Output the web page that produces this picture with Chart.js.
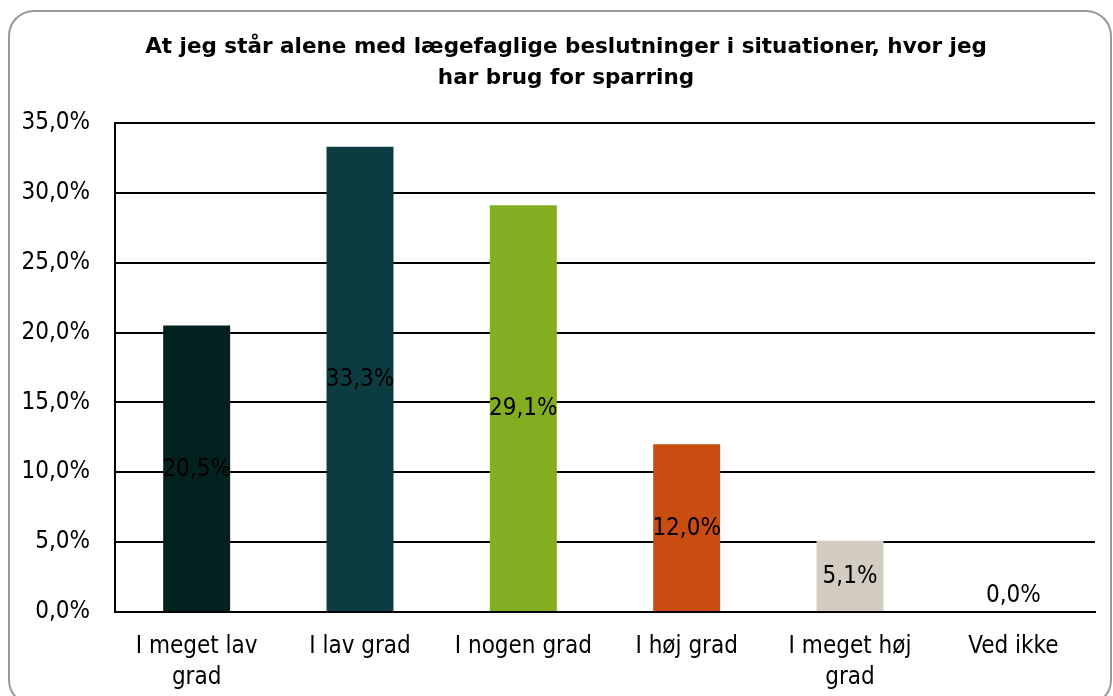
<!DOCTYPE html>
<html>
<head>
<meta charset="utf-8">
<script src="https://cdn.jsdelivr.net/npm/chart.js@4/dist/chart.umd.min.js"></script>
<style>
  body { margin: 0; background: #fff; }
  #wrap { position: relative; width: 1113px; height: 696px; overflow: hidden; }
  #frame {
    position: absolute; left: 8px; top: 10px; width: 1100px; height: 692px;
    border: 2px solid #999; border-radius: 26px; pointer-events: none;
  }
  canvas { position: absolute; left: 0; top: 0; }
</style>
</head>
<body>
<div id="wrap">
  <canvas id="chart" width="1113" height="696"></canvas>
  <div id="frame"></div>
</div>
<script>
// Kategorier og værdier (procent)
const categories = [['I meget lav', 'grad'], 'I lav grad', 'I nogen grad', 'I høj grad', ['I meget høj', 'grad'], 'Ved ikke'];
const values = [20.5, 33.3, 29.1, 12.0, 5.1, 0.0];
const barColors = ['#03211f', '#0d3c40', '#84ae22', '#c94c11', '#d3ccc0', '#7f7f7f'];
const titleLines = ['At jeg står alene med lægefaglige beslutninger i situationer, hvor jeg', 'har brug for sparring'];

const FONT = '"DejaVu Sans Condensed", "DejaVu Sans"';
const TITLE_FONT = '"DejaVu Sans"';

function pct(v) {
  return v.toFixed(1).replace('.', ',') + '%';
}

// Titlen centreres lidt til højre, som i originalen
const titleShift = {
  id: 'titleShift',
  afterLayout(chart) {
    if (chart.titleBlock) chart.titleBlock.left = 37;
  }
};

// Dataetiketter midt i søjlerne
const barLabels = {
  id: 'barLabels',
  afterDatasetsDraw(chart) {
    const ctx = chart.ctx;
    const meta = chart.getDatasetMeta(0);
    ctx.save();
    ctx.font = '24px ' + FONT;
    ctx.fillStyle = '#000';
    ctx.textAlign = 'center';
    ctx.textBaseline = 'middle';
    meta.data.forEach((bar, i) => {
      const mid = (bar.y + bar.base) / 2;
      const y = Math.min(mid, bar.base - 17);
      ctx.fillText(pct(values[i]), bar.x, y + 1);
    });
    ctx.restore();
  }
};

const ctx = document.getElementById('chart').getContext('2d');
new Chart(ctx, {
  type: 'bar',
  data: {
    labels: categories,
    datasets: [{
      data: values,
      backgroundColor: barColors,
      barPercentage: 0.41,
      categoryPercentage: 1
    }]
  },
  options: {
    responsive: false,
    animation: false,
    layout: { padding: { left: 0, right: 18, top: 0, bottom: 0 } },
    plugins: {
      legend: { display: false },
      tooltip: { enabled: false },
      title: {
        display: true,
        text: titleLines,
        color: '#000',
        font: { family: TITLE_FONT, size: 21.5, weight: 'bold', lineHeight: 1.44 },
        padding: { top: 32, bottom: 29 }
      }
    },
    scales: {
      x: {
        grid: { display: false },
        border: { display: true, color: '#000', width: 2 },
        ticks: {
          color: '#000',
          font: { family: FONT, size: 24, lineHeight: 1.3 },
          padding: 11,
          maxRotation: 0,
          autoSkip: false
        },
        afterFit(scale) { scale.height = 84; }
      },
      y: {
        min: 0,
        max: 35,
        grid: { color: '#000', lineWidth: 2, drawTicks: false },
        border: { display: true, color: '#000', width: 2 },
        ticks: {
          stepSize: 5,
          color: '#000',
          padding: 25,
          font: { family: FONT, size: 24 },
          callback: (v) => pct(v)
        },
        afterFit(scale) { scale.width = 115; }
      }
    }
  },
  plugins: [titleShift, barLabels]
});
</script>
</body>
</html>
